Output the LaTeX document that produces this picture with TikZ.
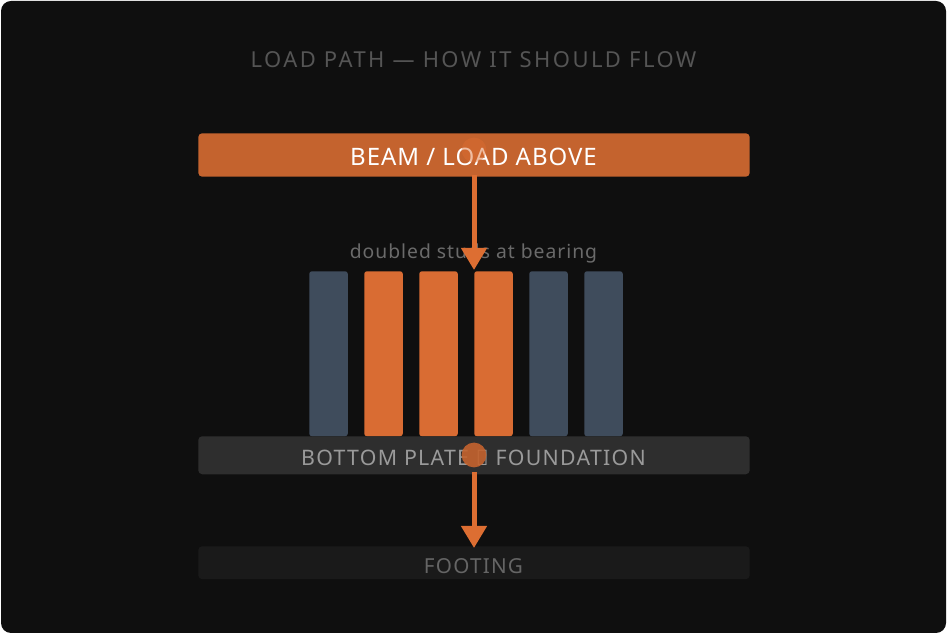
\documentclass[tikz,border=0pt]{standalone}
\usepackage{fontspec}
\setmainfont{Noto Sans}
\usetikzlibrary{arrows.meta}
\newfontfamily\ftitle[LetterSpace=11]{Noto Sans}
\newfontfamily\fbeam[LetterSpace=4]{Noto Sans}
\newfontfamily\fplate[LetterSpace=6]{Noto Sans}
\newfontfamily\fsub[LetterSpace=5]{Noto Sans}
\definecolor{pagebg}{HTML}{0F0F0F}
\definecolor{beamc}{HTML}{C4632E}
\definecolor{studo}{HTML}{D96C33}
\definecolor{studb}{HTML}{3F4C5C}
\definecolor{platec}{HTML}{2E2E2E}
\definecolor{footc}{HTML}{1A1A1A}
\definecolor{arrowc}{HTML}{DD6E32}
\tikzset{
  x=0.75pt,y=-0.75pt,
  bar/.style={rounded corners=3pt,inner sep=0pt,minimum width=413.6pt,anchor=north west},
  stud/.style={rounded corners=2pt,inner sep=0pt,minimum width=28.9pt,minimum height=123.75pt,anchor=north west},
  dot/.style={circle,inner sep=0pt,minimum size=18.6pt},
  flow/.style={draw=arrowc,line width=3.75pt,-{Triangle[length=16.5pt,width=18.6pt,fill=arrowc]},shorten <=0pt},
  lab/.style={inner sep=0pt,anchor=base}
}
\begin{document}
\begin{tikzpicture}
\useasboundingbox (0,0) rectangle (947,634);
\fill[white] (0,0) rectangle (947,634);
\fill[pagebg,rounded corners=7.5pt] (1,1) rectangle (946,633);
\node[lab,text=white!29!pagebg,font=\ftitle\fontsize{16.5}{20}\selectfont] (title) at (473.5,68) {LOAD PATH — HOW IT SHOULD FLOW};
\node[bar,fill=beamc,minimum height=32.6pt] (beam) at (198,133) {};
\node[lab,text=white,font=\fbeam\fontsize{18}{22}\selectfont] (beamt) at (473.5,166) {BEAM / LOAD ABOVE};
\node[lab,text=white!38!pagebg,font=\fsub\fontsize{14.5}{18}\selectfont] (sub) at (473.5,259) {doubled studs at bearing};
\node[stud,fill=studb] (s1) at (309,271) {};
\node[stud,fill=studo] (s2) at (364,271) {};
\node[stud,fill=studo] (s3) at (419,271) {};
\node[stud,fill=studo] (s4) at (474,271) {};
\node[stud,fill=studb] (s5) at (529,271) {};
\node[stud,fill=studb] (s6) at (584,271) {};
\node[bar,fill=platec,minimum height=28.5pt] (plate) at (198,436) {};
\node[lab,text=white!58!pagebg,font=\fplate\fontsize{16}{20}\selectfont] (platet) at (473.5,466) {BOTTOM PLATE → FOUNDATION};
\node[bar,fill=footc,minimum height=24.7pt] (foot) at (198,546) {};
\node[lab,text=white!36!pagebg,font=\fplate\fontsize{15.5}{20}\selectfont] (foott) at (473.5,574) {FOOTING};
\node[dot,fill=arrowc,fill opacity=.45] (d1) at (474,150) {};
\node[dot,fill=beamc,fill opacity=.9] (d2) at (474,455) {};
\coordinate (t1) at (474,270);
\coordinate (t2) at (474,548);
\draw[flow] (474,175) -- (t1);
\draw[flow] (474,472) -- (t2);
\end{tikzpicture}
\end{document}
